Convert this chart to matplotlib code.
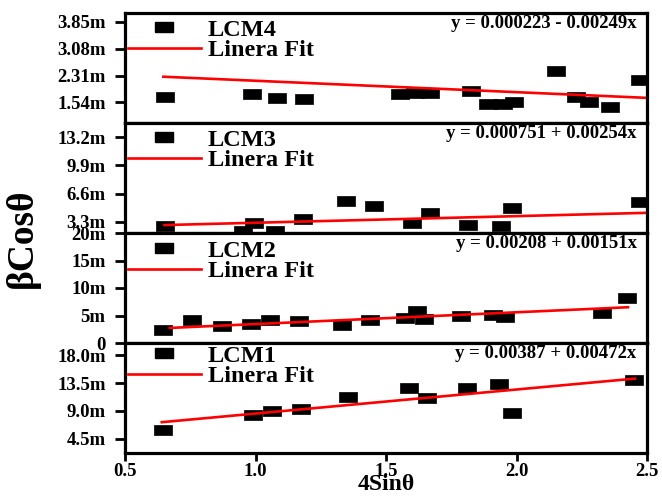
import matplotlib
matplotlib.use("Agg")
import matplotlib.pyplot as plt
from matplotlib.lines import Line2D

# ---------------- data (y values in units of 10^-3, shown with "m" suffix) -------------
lcm4_x = [0.653, 0.985, 1.082, 1.186, 1.554, 1.611, 1.669, 1.824, 1.891, 1.948, 1.990, 2.150, 2.227, 2.278, 2.358, 2.473]
lcm4_y = [1.71, 1.77, 1.68, 1.65, 1.78, 1.80, 1.80, 1.87, 1.51, 1.49, 1.56, 2.43, 1.70, 1.56, 1.40, 2.17]
lcm4_fit_x = [0.647, 2.52]
lcm4_fit_y = [2.276, 1.665]

lcm3_x = [0.655, 0.953, 0.995, 1.075, 1.183, 1.346, 1.455, 1.601, 1.669, 1.813, 1.941, 1.982, 2.473]
lcm3_y = [2.76, 2.21, 3.18, 2.25, 3.65, 5.72, 5.10, 3.11, 4.28, 2.88, 2.80, 4.87, 5.64]
lcm3_fit_x = [0.651, 2.52]
lcm3_fit_y = [2.91, 4.36]

lcm2_x = [0.644, 0.756, 0.873, 0.983, 1.056, 1.167, 1.333, 1.439, 1.573, 1.618, 1.647, 1.786, 1.911, 1.956, 2.326, 2.422]
lcm2_y = [2.43, 4.25, 3.03, 3.47, 4.12, 3.94, 3.34, 4.25, 4.56, 5.77, 4.43, 4.98, 5.16, 4.67, 5.47, 8.21]
lcm2_fit_x = [0.672, 2.427]
lcm2_fit_y = [2.74, 6.50]

lcm1_x = [0.647, 0.992, 1.062, 1.174, 1.353, 1.589, 1.658, 1.809, 1.933, 1.982, 2.451]
lcm1_y = [6.01, 8.38, 8.97, 9.24, 11.30, 12.76, 11.02, 12.76, 13.29, 8.60, 13.94]
lcm1_fit_x = [0.641, 2.454]
lcm1_fit_y = [7.19, 14.21]

names = ["LCM4", "LCM3", "LCM2", "LCM1"]
equations = ["y = 0.000223 - 0.00249x", "y = 0.000751 + 0.00254x",
             "y = 0.00208 + 0.00151x", "y = 0.00387 + 0.00472x"]
fit_label = "Linera Fit"

lcm4_ticks = [1.54, 2.31, 3.08, 3.85]
lcm4_ticklabels = ["1.54m", "2.31m", "3.08m", "3.85m"]
lcm3_ticks = [3.3, 6.6, 9.9, 13.2]
lcm3_ticklabels = ["3.3m", "6.6m", "9.9m", "13.2m"]
lcm2_ticks = [0, 5, 10, 15, 20]
lcm2_ticklabels = ["0", "5m", "10m", "15m", "20m"]
lcm1_ticks = [4.5, 9.0, 13.5, 18.0]
lcm1_ticklabels = ["4.5m", "9.0m", "13.5m", "18.0m"]

x_ticks = [0.5, 1.0, 1.5, 2.0, 2.5]
x_ticklabels = ["0.5", "1.0", "1.5", "2.0", "2.5"]
x_label = "4Sinθ"
y_label = "βCosθ"

# ---------------- style ----------------
plt.rcParams["font.family"] = ["Liberation Serif", "DejaVu Serif"]
plt.rcParams["font.weight"] = "bold"

panels = [
    (lcm4_x, lcm4_y, lcm4_fit_x, lcm4_fit_y, lcm4_ticks, lcm4_ticklabels, (0.954, 4.096)),
    (lcm3_x, lcm3_y, lcm3_fit_x, lcm3_fit_y, lcm3_ticks, lcm3_ticklabels, (1.98, 14.87)),
    (lcm2_x, lcm2_y, lcm2_fit_x, lcm2_fit_y, lcm2_ticks, lcm2_ticklabels, (0.0, 20.0)),
    (lcm1_x, lcm1_y, lcm1_fit_x, lcm1_fit_y, lcm1_ticks, lcm1_ticklabels, (2.23, 19.94)),
]
legend_offsets_px = [13.3, 13.3, 14.3, 9.3]

rect = [(-1, -0.556), (1, -0.556), (1, 0.556), (-1, 0.556), (-1, -0.556)]
msize = 13.4

fig, axes = plt.subplots(4, 1, figsize=(6.62, 4.96), dpi=100, sharex=True)
fig.subplots_adjust(left=125 / 662, right=647 / 662, bottom=1 - 453 / 496, top=1 - 13 / 496, hspace=0)

for i, (ax, (xs, ys, fx, fy, yt, ytl, ylim)) in enumerate(zip(axes, panels)):
    ax.plot(xs, ys, linestyle="none", marker=rect, markersize=msize,
            markerfacecolor="black", markeredgecolor="black", markeredgewidth=0.5)
    ax.plot(fx, fy, color="#ff0000", linewidth=1.9)
    ax.set_xlim(0.5, 2.5)
    ax.set_ylim(*ylim)
    ax.set_yticks(yt)
    ax.set_yticklabels(ytl)
    for s in ax.spines.values():
        s.set_linewidth(2.3)
    ax.tick_params(axis="y", direction="out", length=7, width=2.0, pad=7, labelsize=13.5)
    if i < 3:
        ax.tick_params(axis="x", bottom=False, labelbottom=False)
    else:
        ax.set_xticks(x_ticks)
        ax.set_xticklabels(x_ticklabels)
        ax.tick_params(axis="x", direction="out", length=6, width=2.0, pad=1.5, labelsize=13.5)
    for lab in ax.get_yticklabels() + ax.get_xticklabels():
        lab.set_fontweight("bold")

    handles = [Line2D([], [], linestyle="none", marker=rect, markersize=msize,
                      markerfacecolor="black", markeredgecolor="black"),
               Line2D([], [], color="#ff0000", linewidth=1.9)]
    fs = 17.5
    ax_h_px = 110.0
    y_anchor = 1 - (legend_offsets_px[i] - 7.5) / ax_h_px
    leg = ax.legend(handles, [names[i], fit_label], loc="upper left",
                    bbox_to_anchor=(0.005, y_anchor), frameon=False,
                    borderpad=0, borderaxespad=0, handlelength=3.0,
                    handletextpad=0.3, labelspacing=-0.06,
                    prop={"family": ["Liberation Serif", "DejaVu Serif"], "weight": "bold", "size": fs})
    ax.text(0.980, 0.906, equations[i], transform=ax.transAxes, ha="right", va="center",
            fontsize=13.5, fontweight="bold")

fig.text(386 / 662, 1.5 / 496, x_label, ha="center", va="bottom",
         fontsize=17, fontweight="bold")
fig.text(22 / 662, 1 - 238 / 496, y_label, rotation=90, ha="center", va="center",
         fontsize=27, fontweight="bold")

fig.savefig("out.png", dpi=100)
